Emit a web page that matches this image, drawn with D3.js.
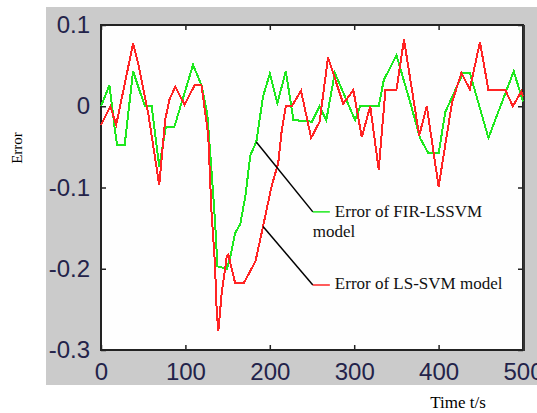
<!DOCTYPE html>
<html>
<head>
<meta charset="utf-8">
<script src="https://cdn.jsdelivr.net/npm/d3@7"></script>
<style>
    body { margin: 0; background: #fff; }
    svg { display: block; }
</style>
</head>
<body>
<svg id="chart" width="537" height="413"></svg>
<script>
// time stamps (s) and error values
var timeFir = [0, 10, 16, 19, 28, 38, 52, 60, 69, 77, 87, 109, 119, 126, 131, 135, 138, 149, 153, 159, 165, 171, 177, 184, 192, 200, 209, 219, 228, 250, 259, 267, 277, 301, 307, 329, 335, 350, 366, 378, 388, 400, 408, 429, 437, 459, 489, 500];
var errFir  = [0, 0.026, -0.025, -0.048, -0.048, 0.043, 0, 0, -0.074, -0.025, -0.025, 0.051, 0.026, -0.01, -0.08, -0.14, -0.197, -0.2, -0.187, -0.156, -0.145, -0.111, -0.06, -0.044, 0.012, 0.04, 0.004, 0.043, -0.017, -0.019, 0, -0.017, 0.041, -0.017, 0, 0, 0.032, 0.063, 0.006, -0.039, -0.058, -0.058, -0.007, 0.041, 0.041, -0.039, 0.043, 0.006];

var timeLs = [0, 11, 18, 38, 44, 56, 69, 76, 81, 88, 99, 111, 119, 127, 131, 135, 137, 139, 143, 149, 151, 159, 169, 183, 192, 202, 210, 214, 219, 226, 237, 249, 259, 269, 287, 299, 309, 319, 329, 337, 350, 359, 377, 386, 400, 416, 427, 437, 449, 459, 479, 488, 498, 500];
var errLs  = [-0.023, 0, -0.023, 0.077, 0.053, -0.009, -0.097, -0.017, 0.008, 0.024, 0.002, 0.026, 0.026, -0.035, -0.132, -0.193, -0.25, -0.277, -0.23, -0.185, -0.183, -0.218, -0.218, -0.191, -0.148, -0.099, -0.07, -0.031, 0, 0, 0.019, -0.039, -0.019, 0.06, 0.003, 0.02, -0.038, 0, -0.078, 0.02, 0.02, 0.082, -0.036, 0, -0.099, 0.005, 0.041, 0.021, 0.079, 0.02, 0.02, 0, 0.018, 0.012];

var xTicks = [0, 100, 200, 300, 400, 500];
var yTicks = [0.1, 0, -0.1, -0.2, -0.3];
var yTickLabels = ["0.1", "0", "-0.1", "-0.2", "-0.3"];

var legendNames = ["Error of FIR-LSSVM", "Error of LS-SVM model"];
// pointer lines: [t, err] on the curve -> [t, err] at the legend
var pointerFir = [[184, -0.044], [251, -0.13]];
var pointerLs  = [[192, -0.148], [251, -0.22]];

var svg = d3.select("#chart");
var plotL = 101, plotR = 523, plotT = 25, plotB = 350;

var x = d3.scaleLinear().domain([0, 500]).range([plotL, plotR]);
var y = d3.scaleLinear().domain([-0.3, 0.1]).range([plotB, plotT]);

// grey figure background
svg.append("rect")
    .attr("x", 46).attr("y", 7)
    .attr("width", 491).attr("height", 378)
    .attr("fill", "#cbcbcb");

svg.append("rect")
    .attr("x", plotL).attr("y", plotT)
    .attr("width", plotR - plotL).attr("height", plotB - plotT)
    .attr("fill", "#fefefe");

var labelFont = "Arial, 'Liberation Sans', sans-serif";

var xAxis = svg.append("g")
    .attr("transform", "translate(0," + plotB + ")")
    .call(d3.axisBottom(x).tickValues(xTicks).tickSize(-5).tickSizeOuter(0).tickPadding(13));
var yAxis = svg.append("g")
    .attr("transform", "translate(" + plotL + ",0)")
    .call(d3.axisLeft(y).tickValues(yTicks).tickSize(-5).tickSizeOuter(0).tickPadding(11)
        .tickFormat(function(d, i) { return yTickLabels[i]; }));
var xTop = svg.append("g")
    .attr("transform", "translate(0," + plotT + ")")
    .call(d3.axisTop(x).tickValues(xTicks).tickSize(-5).tickSizeOuter(0).tickFormat(""));
var yRight = svg.append("g")
    .attr("transform", "translate(" + plotR + ",0)")
    .call(d3.axisRight(y).tickValues(yTicks).tickSize(-5).tickSizeOuter(0).tickFormat(""));

[xAxis, yAxis, xTop, yRight].forEach(function(g) {
    g.select(".domain").remove();
    g.selectAll(".tick line").attr("stroke", "#222").attr("stroke-width", 1.5);
    g.selectAll(".tick text")
        .attr("fill", "#23234a")
        .style("font-family", labelFont)
        .style("font-size", "24px");
});

// frame
svg.append("path")
    .attr("d", "M" + plotL + "," + plotT + "H" + plotR + "V" + plotB + "H" + plotL + "Z")
    .attr("fill", "none")
    .attr("stroke", "#222")
    .attr("stroke-width", 2);
svg.append("line")
    .attr("x1", plotR + 1).attr("x2", plotR + 1)
    .attr("y1", plotT).attr("y2", plotB + 1)
    .attr("stroke", "#333").attr("stroke-width", 2);

var line = d3.line()
    .x(function(d) { return x(d[0]); })
    .y(function(d) { return y(d[1]); });

svg.append("path")
    .datum(d3.zip(timeFir, errFir))
    .attr("d", line)
    .attr("fill", "none")
    .attr("stroke", "#1ee81e")
    .attr("stroke-width", 2)
    .attr("shape-rendering", "crispEdges");

svg.append("path")
    .datum(d3.zip(timeLs, errLs))
    .attr("d", line)
    .attr("fill", "none")
    .attr("stroke", "#ff2424")
    .attr("stroke-width", 2)
    .attr("shape-rendering", "crispEdges");

// legend pointers
[pointerFir, pointerLs].forEach(function(p) {
    svg.append("path")
        .datum(p)
        .attr("d", line)
        .attr("stroke", "#000")
        .attr("stroke-width", 1.5);
});

var serif = "'Times New Roman', 'Liberation Serif', serif";
var legendX = x(pointerFir[1][0]);

svg.append("line")
    .attr("x1", legendX).attr("x2", legendX + 17)
    .attr("y1", y(pointerFir[1][1])).attr("y2", y(pointerFir[1][1]))
    .attr("stroke", "#1ee81e").attr("stroke-width", 1.5);
svg.append("line")
    .attr("x1", legendX).attr("x2", legendX + 17)
    .attr("y1", y(pointerLs[1][1])).attr("y2", y(pointerLs[1][1]))
    .attr("stroke", "#ff2424").attr("stroke-width", 1.5);

var leg = svg.append("g")
    .style("font-family", serif)
    .style("font-size", "17px")
    .attr("fill", "#111");
leg.append("text").attr("x", legendX + 22).attr("y", 217).text(legendNames[0]);
leg.append("text").attr("x", legendX).attr("y", 237).text("model");
leg.append("text").attr("x", legendX + 22).attr("y", 289).text(legendNames[1]);

svg.append("text")
    .attr("transform", "translate(22,148) rotate(-90)")
    .attr("text-anchor", "middle")
    .style("font-family", serif)
    .style("font-size", "15px")
    .text("Error");

svg.append("text")
    .attr("x", 458).attr("y", 408)
    .attr("text-anchor", "middle")
    .style("font-family", serif)
    .style("font-size", "17px")
    .text("Time t/s");
</script>
</body>
</html>
